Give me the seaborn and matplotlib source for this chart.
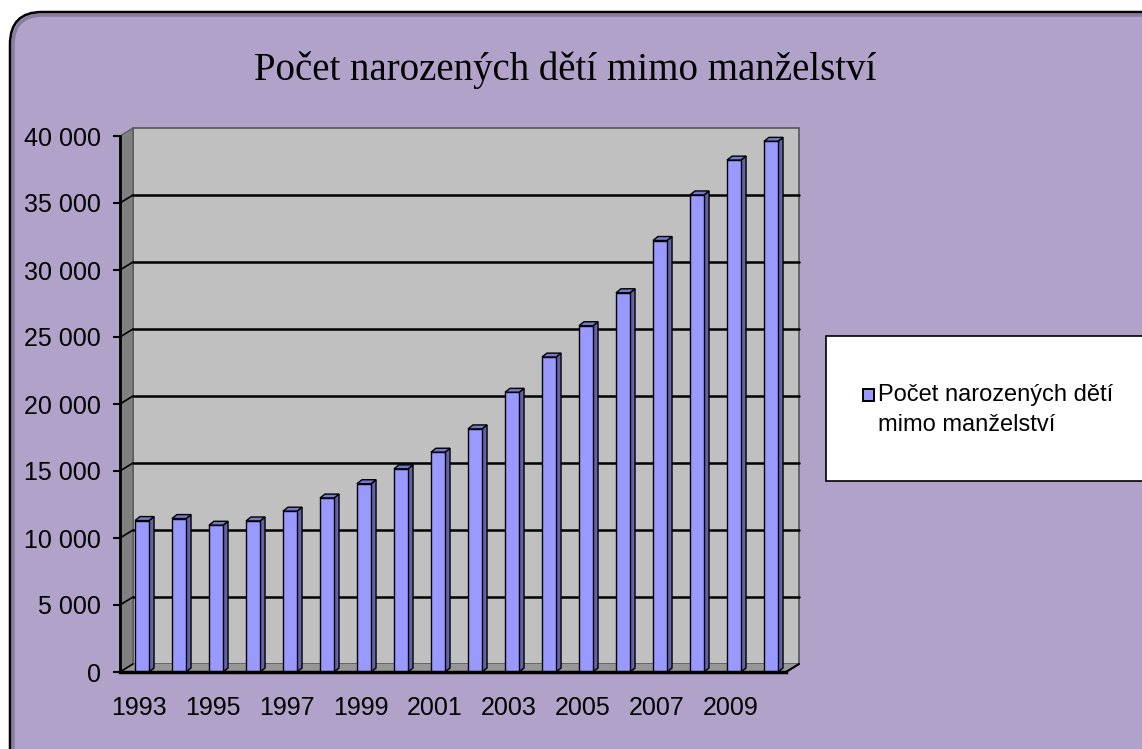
import numpy as np
import pandas as pd
import seaborn as sns
import matplotlib.pyplot as plt
from matplotlib.patches import Polygon, Rectangle, FancyBboxPatch
from matplotlib.ticker import FuncFormatter

years = [1993, 1994, 1995, 1996, 1997, 1998, 1999, 2000, 2001,
         2002, 2003, 2004, 2005, 2006, 2007, 2008, 2009, 2010]
births = [11300, 11450, 10950, 11270, 12000, 12980, 14050, 15160, 16400,
          18140, 20870, 23500, 25840, 28300, 32200, 35600, 38200, 39600]
y_ticks = [0, 5000, 10000, 15000, 20000, 25000, 30000, 35000, 40000]
x_labels = [str(y) for y in years[::2]]

title = "Počet narozených dětí mimo manželství"
series_label = "Počet narozených dětí\nmimo manželství"
bar_color = "#9999FF"

sns.set_style("white")
plt.rcParams["font.family"] = ["Liberation Sans", "DejaVu Sans"]
plt.rcParams["text.color"] = "black"
plt.rcParams["xtick.color"] = "black"
plt.rcParams["ytick.color"] = "black"

W, H = 1142, 749
fig = plt.figure(figsize=(W / 100, H / 100), dpi=100)
fig.patch.set_facecolor("white")

# rounded purple chart area
frame = FancyBboxPatch((0.10, -0.4), 12.0, 7.77, boxstyle="round,pad=0,rounding_size=0.32",
                       transform=fig.dpi_scale_trans, facecolor="#B0A2C8",
                       edgecolor="black", lw=1.8, zorder=-3)
fig.add_artist(frame)
shade = FancyBboxPatch((0.13, -0.4), 12.0, 7.74, boxstyle="round,pad=0,rounding_size=0.30",
                       transform=fig.dpi_scale_trans, facecolor="none",
                       edgecolor="#6f6480", lw=2.5, alpha=0.6, zorder=-2)
fig.add_artist(shade)

ax = fig.add_axes([120 / W, 77 / H, 666 / W, 536 / H])
ax.patch.set_visible(False)

df = pd.DataFrame({"year": [str(y) for y in years], "births": births})
sns.barplot(data=df, x="year", y="births", color=bar_color, saturation=1,
            width=0.38, edgecolor="black", linewidth=1.0,
            ax=ax, zorder=4)
bars = list(ax.patches)
if ax.get_legend() is not None:
    ax.get_legend().remove()

ax.set_xlim(-0.5, 17.5)
ax.set_ylim(0, 40000)
ax.set(xlabel="", ylabel="")

# pixel -> data units
ux = 18 / 666
uy = 40000 / 536
wdx, wdy = 13 * ux, 8 * uy
bdx, bdy = 5 * ux, 4 * uy

# back wall, side wall, floor
ax.add_patch(Rectangle((-0.5 + wdx, wdy), 18, 40000, facecolor="#C0C0C0",
                       edgecolor="#555555", lw=1.2, zorder=0, clip_on=False))
ax.add_patch(Polygon([(-0.5, 0), (-0.5, 40000), (-0.5 + wdx, 40000 + wdy), (-0.5 + wdx, wdy)],
                     closed=True, facecolor="#808080", edgecolor="#555555", lw=0.8,
                     zorder=0.5, clip_on=False))
ax.add_patch(Polygon([(-0.5, 0), (17.5, 0), (17.5 + wdx, wdy), (-0.5 + wdx, wdy)],
                     closed=True, facecolor="#979797", edgecolor="none",
                     zorder=0.5, clip_on=False))
ax.plot([17.5, 17.5 + wdx], [0, wdy], color="black", lw=1.5, zorder=2, clip_on=False)

for t in y_ticks[1:-1]:
    ax.plot([-0.5 + wdx, 17.5 + wdx], [t + wdy, t + wdy], color="black", lw=1.8,
            zorder=1, clip_on=False)
for t in y_ticks[:-1]:
    ax.plot([-0.5, -0.5 + wdx], [t, t + wdy], color="black", lw=1.2,
            zorder=1, clip_on=False)

# fake 3d columns
for p in bars:
    p.set_x(p.get_x() + 3.5 * ux)
    xl = p.get_x()
    xr = xl + p.get_width()
    h = p.get_height()
    ax.add_patch(Polygon([(xr, 0), (xr + bdx, bdy), (xr + bdx, h + bdy), (xr, h)],
                         closed=True, facecolor="#6262A8", edgecolor="black",
                         lw=1.0, zorder=3.5))
    ax.add_patch(Polygon([(xl, h), (xr, h), (xr + bdx, h + bdy), (xl + bdx, h + bdy)],
                         closed=True, facecolor="#7777CC", edgecolor="black",
                         lw=1.0, zorder=3.5))

# axes styling
ax.set_xticks(range(0, 18, 2))
ax.set_xticklabels(x_labels)
ax.set_xticks(np.arange(-0.5, 17.6, 1), minor=True)
ax.tick_params(axis="x", which="major", length=0, pad=17, labelsize=18)
ax.tick_params(axis="x", which="minor", length=7, width=1.5, direction="out", color="black")
ax.set_yticks(y_ticks)
ax.yaxis.set_major_formatter(FuncFormatter(lambda v, pos: f"{int(v):,}".replace(",", " ")))
ax.tick_params(axis="y", length=5, width=1.5, pad=9, labelsize=18, direction="out",
               color="black", left=True)
ax.tick_params(axis="x", bottom=True)
for side in ["top", "right"]:
    ax.spines[side].set_visible(False)
ax.spines["left"].set_linewidth(2.0)
ax.spines["bottom"].set_linewidth(2.5)
ax.spines["left"].set_color("black")
ax.spines["bottom"].set_color("black")
ax.spines["left"].set_zorder(5)
ax.spines["bottom"].set_zorder(5)

fig.text(565 / W, 1 - 70 / H, title, ha="center", va="center", color="black",
         fontsize=28, family=["Liberation Serif", "DejaVu Serif"])

# legend box, drawn by hand so the key sits on the first line
fig.add_artist(Rectangle((8.26, 2.68), 4.0, 1.45, transform=fig.dpi_scale_trans,
                         facecolor="white", edgecolor="black", lw=1.2, zorder=-1))
fig.add_artist(Rectangle((8.625, 7.49 - 4.01), 0.115, 0.115, transform=fig.dpi_scale_trans,
                         facecolor=bar_color, edgecolor="black", lw=1.4, zorder=2))
fig.text(878 / W, 1 - 384 / H, series_label, ha="left", va="top", fontsize=17,
         linespacing=1.45, color="black")

fig.savefig("out.png", dpi=100)
